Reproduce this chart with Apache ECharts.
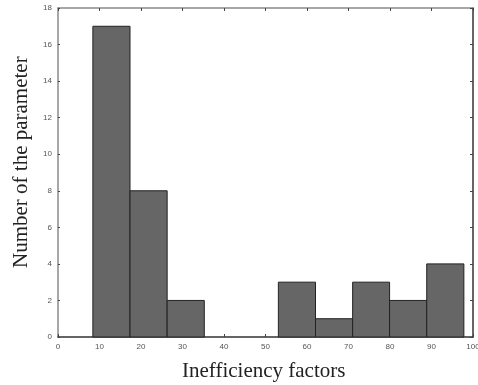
<!DOCTYPE html>
<html><head><meta charset="utf-8">
<script src="https://cdn.jsdelivr.net/npm/echarts@6/dist/echarts.min.js"></script>
<style>html,body{margin:0;padding:0;background:#fff}#c{width:478px;height:385px}</style>
</head><body><div id="c"></div>
<script>
const binEdges = [8.4, 17.35, 26.3, 35.25, 44.2, 53.1, 62.05, 71.0, 79.9, 88.85, 97.8];
const counts = [17, 8, 2, 0, 0, 3, 1, 3, 2, 4];
const xTicks = [0,10,20,30,40,50,60,70,80,90,100];
const yTicks = [0,2,4,6,8,10,12,14,16,18];
const xTitle = 'Inefficiency factors';
const yTitle = 'Number of the parameter';

const data = counts.map((c,i)=>[binEdges[i], binEdges[i+1], c]);
const lineGray = {show:true, onZero:false, lineStyle:{color:'#8a8a8a', width:1.5}};
const lineDark = {show:true, onZero:false, lineStyle:{color:'#333', width:1.5}};
const labelStyle = {color:'#555', fontSize:8, fontFamily:'Liberation Sans, Arial, sans-serif'};
const tick = {show:true, inside:true, length:3, lineStyle:{color:'#444'}};
const chart = echarts.init(document.getElementById('c'));
chart.setOption({
  animation:false,
  grid:{left:58, right:5, top:8, bottom:48, containLabel:false, outerBoundsMode:'none'},
  xAxis:[
    {type:'value', min:0, max:100, interval:10, axisLine:lineDark, splitLine:{show:false},
     axisTick:tick, axisLabel:Object.assign({margin:6}, labelStyle)},
    {type:'value', position:'top', min:0, max:100, interval:10, axisLine:lineGray, splitLine:{show:false},
     axisTick:tick, axisLabel:{show:false}}
  ],
  yAxis:[
    {type:'value', min:0, max:18, interval:2, axisLine:lineGray, splitLine:{show:false},
     axisTick:{show:true, inside:true, length:2, lineStyle:{color:'#444'}},
     axisLabel:Object.assign({margin:6}, labelStyle)},
    {type:'value', position:'right', min:0, max:18, interval:2, axisLine:lineDark, splitLine:{show:false},
     axisTick:tick, axisLabel:{show:false}}
  ],
  graphic:[
    {type:'text', left:182, top:361, style:{text:xTitle, font:'21px "Liberation Serif", "Times New Roman", serif', fill:'#222'}},
    {type:'text', rotation:Math.PI/2, x:11, y:268, style:{text:yTitle, font:'21px "Liberation Serif", "Times New Roman", serif', fill:'#222'}}
  ],
  series:[{
    type:'custom', xAxisIndex:0, yAxisIndex:0,
    renderItem:function(params, api){
      if (api.value(2) === 0) return null;
      const s = api.coord([api.value(0), api.value(2)]);
      const e = api.coord([api.value(1), 0]);
      return {type:'rect', shape:{x:s[0], y:s[1], width:e[0]-s[0], height:e[1]-s[1]},
        style:{fill:'#666666', stroke:'#222', lineWidth:1}};
    },
    encode:{x:[0,1], y:2},
    data:data
  }]
});
</script></body></html>
